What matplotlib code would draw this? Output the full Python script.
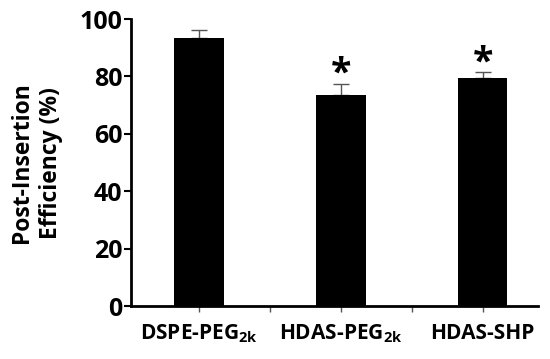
import matplotlib
matplotlib.use("Agg")
import matplotlib.pyplot as plt
import numpy as np

plt.rcParams["font.family"] = "Open Sans"
plt.rcParams["font.weight"] = "bold"
plt.rcParams["mathtext.fontset"] = "custom"
plt.rcParams["mathtext.rm"] = "Open Sans:bold"
plt.rcParams["mathtext.it"] = "Open Sans:bold"
plt.rcParams["mathtext.bf"] = "Open Sans:bold"

groups = ["DSPE-PEG$_{2k}$", "HDAS-PEG$_{2k}$", "HDAS-SHP"]
efficiency = [93.5, 73.5, 79.5]
err_up = [2.6, 4.0, 2.0]
significant = [False, True, True]

fig = plt.figure(figsize=(5.5, 3.59), dpi=100)
ax = fig.add_axes([0.238, 0.147, 0.74, 0.8])

x = np.arange(len(groups))
ax.bar(x, efficiency, width=0.35, color="black", zorder=3)
ax.errorbar(x, efficiency, yerr=[np.zeros(len(x)), err_up], fmt="none",
            ecolor="#555555", elinewidth=1, capsize=6, capthick=1, zorder=2)

# asterisks above the significant bars
for xi, v, e, s in zip(x, efficiency, err_up, significant):
    if s:
        ax.text(xi, v + e - 3.5, "*", ha="center", va="bottom",
                fontsize=27, fontweight="bold")

ax.set_xlim(-0.48, 2.39)
ax.set_ylim(0, 100)
ax.set_yticks([0, 20, 40, 60, 80, 100])
ax.set_xticks(x)
ax.set_xticks([0.5, 1.5], minor=True)
ax.set_xticklabels(groups)
ax.set_ylabel("Post-Insertion\nEfficiency (%)", fontsize=16.5, fontweight="bold",
              linespacing=1.3, labelpad=12)

for side in ["top", "right"]:
    ax.spines[side].set_visible(False)
for side in ["left", "bottom"]:
    ax.spines[side].set_linewidth(2)

ax.tick_params(axis="y", labelsize=18, width=1.5, length=5, pad=1)
ax.tick_params(axis="x", which="both", labelsize=15, width=1, length=4, pad=8,
               colors="#555555", labelcolor="black")

plt.savefig("out.png", dpi=100)
